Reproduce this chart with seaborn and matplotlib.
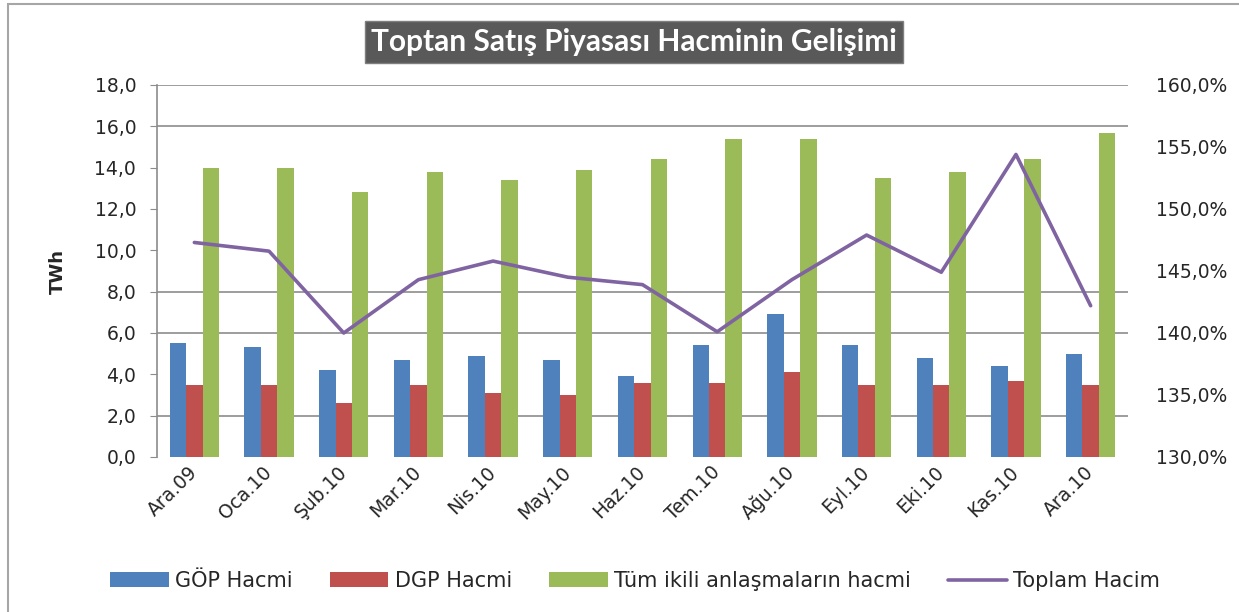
import matplotlib
matplotlib.use("Agg")
import matplotlib.pyplot as plt
import numpy as np
import pandas as pd
import seaborn as sns
from matplotlib.patches import Rectangle
from matplotlib.ticker import FuncFormatter

# veriler (grafikten okunan yaklasik degerler)
aylar = ["Ara.09", "Oca.10", "Şub.10", "Mar.10", "Nis.10", "May.10", "Haz.10",
         "Tem.10", "Ağu.10", "Eyl.10", "Eki.10", "Kas.10", "Ara.10"]
gop = [5.5, 5.3, 4.2, 4.7, 4.9, 4.7, 3.9, 5.4, 6.9, 5.4, 4.8, 4.4, 5.0]
dgp = [3.5, 3.5, 2.6, 3.5, 3.1, 3.0, 3.6, 3.6, 4.1, 3.5, 3.5, 3.7, 3.5]
ikili = [14.0, 14.0, 12.8, 13.8, 13.4, 13.9, 14.4, 15.4, 15.4, 13.5, 13.8, 14.4, 15.7]
toplam = [147.3, 146.6, 140.0, 144.3, 145.8, 144.5, 143.9, 140.1, 144.3, 147.9, 144.9, 154.4, 142.2]

seriler = ["GÖP Hacmi", "DGP Hacmi", "Tüm ikili anlaşmaların hacmi"]
renkler = ["#4F81BD", "#C0504D", "#9BBB59"]
cizgi_renk = "#8064A2"
izgara = [2, 6, 8, 16, 18]

df = pd.DataFrame({
    "ay": aylar * 3,
    "seri": [seriler[0]] * len(aylar) + [seriler[1]] * len(aylar) + [seriler[2]] * len(aylar),
    "deger": gop + dgp + ikili,
})

sns.set_style("white")
plt.rcParams["font.family"] = ["DejaVu Sans"]

fig = plt.figure(figsize=(12.39, 6.12), dpi=100)
ax = fig.add_axes([157 / 1239, 1 - 457 / 612, (1128 - 157) / 1239, (457 - 85) / 612])

sns.barplot(data=df, x="ay", y="deger", hue="seri", order=aylar, hue_order=seriler,
            palette=renkler, saturation=1, width=0.66, errorbar=None, linewidth=0, ax=ax)

for g in izgara:
    ax.axhline(g, color="#8c8c8c", lw=1.2, zorder=0.5)

ax.set_ylim(0, 18)
ax.set_yticks(np.arange(0, 19, 2))
ax.yaxis.set_major_formatter(FuncFormatter(lambda v, p: f"{v:.1f}".replace(".", ",")))
ax.set_xlim(-0.5, len(aylar) - 0.5)
ax.set_xlabel("")
ax.set_ylabel("TWh", fontsize=13, fontweight="bold", labelpad=20)
ax.set_xticks(range(len(aylar)))
ax.set_xticklabels(aylar, rotation=45, ha="right", va="center", rotation_mode="anchor", fontsize=13.5)
ax.tick_params(axis="x", length=0, pad=9)
ax.tick_params(axis="y", labelsize=13.5, length=5, color="#8c8c8c", left=True, pad=10)
for s in ["top", "right", "bottom"]:
    ax.spines[s].set_visible(False)
ax.spines["left"].set_color("#8c8c8c")
ax.spines["left"].set_linewidth(1.2)

h, l = ax.get_legend_handles_labels()
ax.legend_.remove()

ax2 = ax.twinx()
sns.lineplot(x=np.arange(len(aylar)), y=toplam, ax=ax2, color=cizgi_renk, linewidth=2.6,
             label="Toplam Hacim")
ax2.set_ylim(130, 160)
ax2.set_yticks(np.arange(130, 161, 5))
ax2.yaxis.set_major_formatter(FuncFormatter(lambda v, p: f"{v:.1f}".replace(".", ",") + "%"))
ax2.tick_params(axis="y", labelsize=13.5, length=0, pad=20)
for s in ax2.spines.values():
    s.set_visible(False)
h2, l2 = ax2.get_legend_handles_labels()
ax2.legend_.remove()

fig.legend(h + h2, l + l2, loc="center", bbox_to_anchor=(635 / 1239, 1 - 581 / 612), ncol=4,
           frameon=False, fontsize=15, handlelength=2.8, handleheight=0.7,
           handletextpad=0.3, columnspacing=1.8)

fig.text(634 / 1239, 1 - 42 / 612, "Toptan Satış Piyasası Hacminin Gelişimi", ha="center",
         va="center", color="white", fontsize=21.5, fontweight="bold", family="Lato",
         bbox=dict(boxstyle="square,pad=0.22", fc="#595959", ec="#7f7f7f"))

fig.patches.append(Rectangle((8 / 1239, -0.1), 1.2, 1.1 - 4 / 612, transform=fig.transFigure,
                             fill=False, edgecolor="#a6a6a6", lw=1.5))

fig.savefig("out.png", dpi=100, facecolor="white")
